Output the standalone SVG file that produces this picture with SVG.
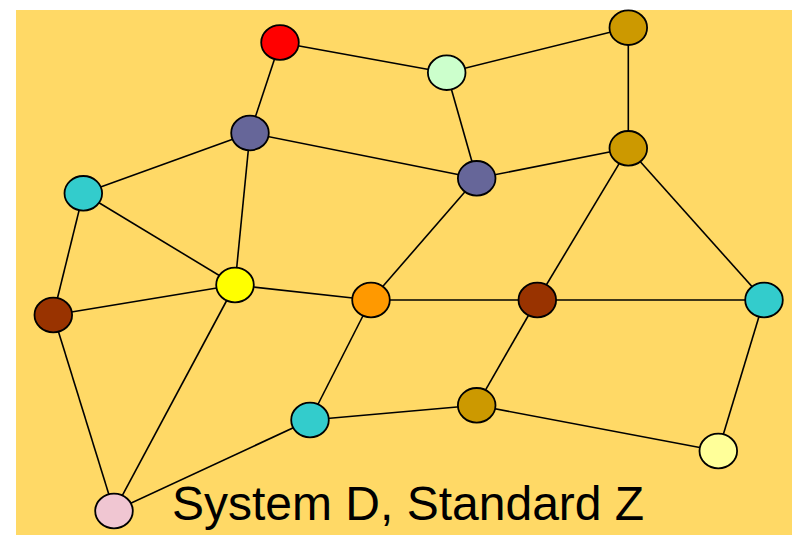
<svg xmlns="http://www.w3.org/2000/svg" width="792" height="535" viewBox="0 0 792 535">
<style>
.e{stroke:#000;stroke-width:1.6;fill:none}
.n{stroke:#000;stroke-width:1.8}
.t{font-family:"Liberation Sans",Arial,sans-serif;font-size:48px;fill:#000}
</style>
<rect x="16" y="10" width="776" height="525" fill="#FFD966"/>
<g id="connectors" class="e">
<line x1="280" y1="42.5" x2="250" y2="133"/>
<line x1="280" y1="42.5" x2="446.7" y2="72.7"/>
<line x1="446.7" y1="72.7" x2="628.3" y2="27.7"/>
<line x1="446.7" y1="72.7" x2="476.7" y2="178.3"/>
<line x1="628.3" y1="27.7" x2="628.3" y2="148.3"/>
<line x1="250" y1="133" x2="83.3" y2="193.3"/>
<line x1="250" y1="133" x2="476.7" y2="178.3"/>
<line x1="250" y1="133" x2="235" y2="285"/>
<line x1="476.7" y1="178.3" x2="628.3" y2="148.3"/>
<line x1="476.7" y1="178.3" x2="371" y2="300"/>
<line x1="83.3" y1="193.3" x2="235" y2="285"/>
<line x1="83.3" y1="193.3" x2="53.3" y2="315"/>
<line x1="53.3" y1="315" x2="235" y2="285"/>
<line x1="53.3" y1="315" x2="114" y2="511"/>
<line x1="235" y1="285" x2="371" y2="300"/>
<line x1="235" y1="285" x2="114" y2="511"/>
<line x1="628.3" y1="148.3" x2="537.3" y2="300"/>
<line x1="628.3" y1="148.3" x2="764" y2="300"/>
<line x1="371" y1="300" x2="537.3" y2="300"/>
<line x1="371" y1="300" x2="310" y2="420"/>
<line x1="537.3" y1="300" x2="764" y2="300"/>
<line x1="537.3" y1="300" x2="476.7" y2="405.3"/>
<line x1="764" y1="300" x2="718.3" y2="451"/>
<line x1="310" y1="420" x2="114" y2="511"/>
<line x1="310" y1="420" x2="476.7" y2="405.3"/>
<line x1="476.7" y1="405.3" x2="718.3" y2="451"/>
</g>
<g id="n-red"><ellipse class="n" cx="280" cy="42.5" rx="18.8" ry="17.3" fill="#FF0000"/></g>
<g id="n-mint"><ellipse class="n" cx="446.7" cy="72.7" rx="18.8" ry="17.3" fill="#CCFFCC"/></g>
<g id="n-gold-top"><ellipse class="n" cx="628.3" cy="27.7" rx="18.8" ry="17.3" fill="#CC9900"/></g>
<g id="n-purple-1"><ellipse class="n" cx="250" cy="133" rx="18.8" ry="17.3" fill="#666699"/></g>
<g id="n-gold-2"><ellipse class="n" cx="628.3" cy="148.3" rx="18.8" ry="17.3" fill="#CC9900"/></g>
<g id="n-purple-2"><ellipse class="n" cx="476.7" cy="178.3" rx="18.8" ry="17.3" fill="#666699"/></g>
<g id="n-cyan-1"><ellipse class="n" cx="83.3" cy="193.3" rx="18.8" ry="17.3" fill="#33CCCC"/></g>
<g id="n-yellow"><ellipse class="n" cx="235" cy="285" rx="18.8" ry="17.3" fill="#FFFF00"/></g>
<g id="n-orange"><ellipse class="n" cx="371" cy="300" rx="18.8" ry="17.3" fill="#FF9900"/></g>
<g id="n-brown-2"><ellipse class="n" cx="537.3" cy="300" rx="18.8" ry="17.3" fill="#993300"/></g>
<g id="n-cyan-right"><ellipse class="n" cx="764" cy="300" rx="18.8" ry="17.3" fill="#33CCCC"/></g>
<g id="n-brown-left"><ellipse class="n" cx="53.3" cy="315" rx="18.8" ry="17.3" fill="#993300"/></g>
<g id="n-cyan-bottom"><ellipse class="n" cx="310" cy="420" rx="18.8" ry="17.3" fill="#33CCCC"/></g>
<g id="n-gold-bottom"><ellipse class="n" cx="476.7" cy="405.3" rx="18.8" ry="17.3" fill="#CC9900"/></g>
<g id="n-light-yellow"><ellipse class="n" cx="718.3" cy="451" rx="18.8" ry="17.3" fill="#FFFF99"/></g>
<g id="n-pink"><ellipse class="n" cx="114" cy="511" rx="18.8" ry="17.3" fill="#F0C6D2"/></g>
<text class="t" x="172" y="520">System D, Standard Z</text>
</svg>
